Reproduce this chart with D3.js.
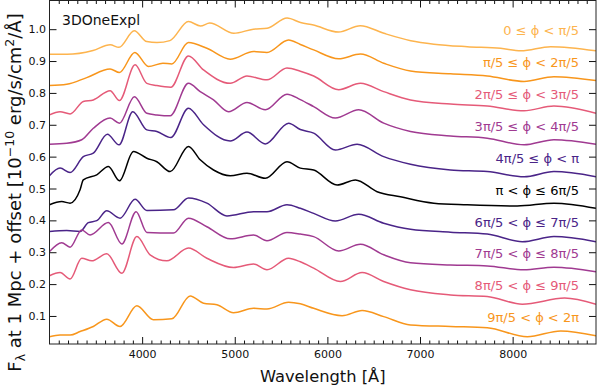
<!DOCTYPE html>
<html><head><meta charset="utf-8">
<script src="https://cdn.jsdelivr.net/npm/d3@7"></script>
<style>
body{margin:0;background:#fff}
svg{display:block}
text{font-family:"DejaVu Sans",Verdana,sans-serif}
</style>
</head><body>
<svg id="chart" width="598" height="388"></svg>
<script>
// ---------------- data (wavelength in Å, flux + offset) ----------------
const seriesLabels = ["0 ≤ ϕ < π/5","π/5 ≤ ϕ < 2π/5","2π/5 ≤ ϕ < 3π/5","3π/5 ≤ ϕ < 4π/5","4π/5 ≤ ϕ < π",
  "π < ϕ ≤ 6π/5","6π/5 < ϕ ≤ 7π/5","7π/5 < ϕ ≤ 8π/5","8π/5 < ϕ ≤ 9π/5","9π/5 < ϕ < 2π"];
const labelPos = [1.0,0.9,0.8,0.7,0.6,0.5,0.4,0.3,0.2,0.1];

const wl0 = [3000,3190,3470,3655,3750,3915,4050,4160,4300,4500,4630,4730,4990,5200,5350,5565,5710,5850,6120,6355,6610,6900,7150,7510,7870,8090,8410,8900];
const fx0 = [0.921,0.921,0.933,0.951,0.943,0.995,0.961,0.958,0.964,1.024,1.010,1.019,0.987,1.000,1.003,1.035,1.021,1.013,0.991,1.011,0.987,0.964,0.953,0.945,0.940,0.932,0.945,0.932];

const wl1 = [3000,3186,3402,3654,3755,3921,4068,4224,4321,4500,4699,4951,5203,5348,5581,5708,5852,6122,6357,6608,6897,7329,7726,8123,8446,8900];
const fx1 = [0.823,0.827,0.848,0.875,0.864,0.927,0.883,0.893,0.891,0.958,0.940,0.906,0.930,0.927,0.966,0.952,0.935,0.907,0.922,0.893,0.869,0.860,0.853,0.836,0.851,0.839];

const wl2 = [3000,3114,3222,3365,3473,3654,3755,3924,4051,4159,4310,4500,4663,4951,5132,5348,5564,5708,5852,6122,6357,6608,6897,7329,7726,8123,8446,8900];
const fx2 = [0.731,0.741,0.734,0.773,0.778,0.807,0.776,0.888,0.830,0.823,0.818,0.916,0.872,0.830,0.853,0.841,0.878,0.868,0.853,0.810,0.830,0.804,0.778,0.765,0.759,0.744,0.759,0.736];

const wl3 = [3000,3186,3348,3473,3654,3755,3917,4051,4159,4303,4500,4627,4771,4933,5132,5330,5564,5708,5852,6086,6338,6608,6897,7329,7726,8123,8446,8900];
const fx3 = [0.639,0.642,0.653,0.689,0.721,0.705,0.788,0.736,0.731,0.728,0.830,0.804,0.778,0.741,0.770,0.747,0.796,0.779,0.757,0.721,0.747,0.705,0.679,0.665,0.658,0.637,0.653,0.639];

const wl4 = [3000,3114,3222,3365,3473,3625,3751,3899,4051,4159,4310,4500,4663,4951,5132,5330,5581,5708,5852,6086,6321,6608,6897,7329,7726,8123,8446,8900];
const fx4 = [0.540,0.564,0.550,0.600,0.611,0.670,0.637,0.741,0.684,0.679,0.660,0.752,0.700,0.649,0.677,0.640,0.705,0.685,0.674,0.621,0.639,0.600,0.576,0.558,0.553,0.537,0.553,0.537];

const wl5 = [3000,3132,3222,3330,3365,3510,3636,3755,3906,4051,4159,4303,4500,4627,4771,4951,5132,5330,5564,5708,5852,6105,6303,6537,6789,7149,7510,8050,8446,8900];
const fx5 = [0.449,0.459,0.454,0.496,0.527,0.543,0.569,0.524,0.616,0.595,0.584,0.553,0.632,0.590,0.558,0.540,0.548,0.532,0.584,0.564,0.558,0.511,0.527,0.490,0.474,0.454,0.449,0.445,0.454,0.438];

const wl6 = [3000,3186,3330,3419,3510,3618,3762,3924,4051,4338,4500,4699,4916,5203,5348,5564,5708,5852,6086,6338,6608,6897,7329,7726,8104,8446,8900];
const fx6 = [0.365,0.368,0.365,0.393,0.399,0.430,0.407,0.466,0.431,0.433,0.470,0.454,0.414,0.427,0.427,0.449,0.438,0.422,0.398,0.419,0.391,0.372,0.363,0.357,0.333,0.349,0.333];

const wl7 = [3000,3132,3222,3348,3438,3636,3781,3935,4051,4338,4500,4699,4951,5203,5348,5564,5708,5852,6122,6357,6608,6897,7329,7726,8123,8446,8900];
const fx7 = [0.302,0.330,0.316,0.370,0.354,0.393,0.326,0.427,0.362,0.360,0.407,0.380,0.342,0.354,0.336,0.362,0.357,0.349,0.304,0.325,0.292,0.267,0.260,0.257,0.245,0.253,0.239];

const wl8 = [3000,3114,3222,3348,3456,3618,3781,3943,4086,4267,4500,4699,4987,5203,5348,5581,5708,5852,6140,6375,6608,6897,7329,7726,8104,8561,8900];
const fx8 = [0.226,0.236,0.216,0.281,0.273,0.295,0.234,0.349,0.292,0.273,0.313,0.281,0.252,0.263,0.245,0.281,0.270,0.250,0.208,0.236,0.208,0.182,0.166,0.161,0.137,0.156,0.137];

const wl9 = [3000,3114,3222,3330,3473,3618,3762,3943,4122,4321,4519,4663,4807,4987,5203,5348,5581,5708,5852,6159,6375,6608,6897,7329,7726,8159,8519,8900];
const fx9 = [0.035,0.040,0.040,0.051,0.067,0.090,0.067,0.132,0.088,0.091,0.163,0.140,0.135,0.110,0.124,0.122,0.143,0.138,0.124,0.101,0.117,0.098,0.072,0.067,0.063,0.035,0.053,0.038];

const xTicks = [4000,5000,6000,7000,8000];
const yTicks = [0.1,0.2,0.3,0.4,0.5,0.6,0.7,0.8,0.9,1.0];
const xDomain = [3000, 8900];
const yDomain = [0.012, 1.090];

// ---------------- styles ----------------
const palette = ["#fdb44e","#f8961c","#e55a78","#a03a91","#4a2488","#000000","#4a2488","#a03a91","#e55a78","#f8961c"];

const wls = [wl0,wl1,wl2,wl3,wl4,wl5,wl6,wl7,wl8,wl9];
const fxs = [fx0,fx1,fx2,fx3,fx4,fx5,fx6,fx7,fx8,fx9];
const series = wls.map((w,i)=>({label:seriesLabels[i], pos:labelPos[i], color:palette[i], pts:w.map((l,j)=>[l,fxs[i][j]])}));

const L = 49.5, R = 596, T = 0.5, B = 344;
const svg = d3.select("#chart");
const x = d3.scaleLinear().domain(xDomain).range([L, R]);
const y = d3.scaleLinear().domain(yDomain).range([B, T]);

svg.append("defs").append("clipPath").attr("id","clip")
  .append("rect").attr("x",L).attr("y",T).attr("width",R-L).attr("height",B-T);

const line = d3.line().x(d=>x(d[0])).y(d=>y(d[1])).curve(d3.curveMonotoneX);
const g = svg.append("g").attr("clip-path","url(#clip)");
series.forEach(s=>{
  g.append("path").attr("d",line(s.pts)).attr("fill","none")
    .attr("stroke",s.color).attr("stroke-width",1.5).attr("stroke-linejoin","round");
});

// labels
series.forEach(s=>{
  svg.append("text").attr("x",579).attr("y",y(s.pos)+1.5).attr("dy","0.36em")
    .attr("text-anchor","end").attr("font-size",13).attr("fill",s.color).text(s.label);
});

svg.append("text").attr("x",62).attr("y",24.5).attr("font-size",14).attr("fill","#111").text("3DOneExpl");

// axes
const axB = d3.axisBottom(x).tickValues(xTicks).tickSize(-7).tickPadding(6).tickFormat(d3.format("d"));
const axT = d3.axisTop(x).tickValues(xTicks).tickSize(-7).tickFormat("");
const axL = d3.axisLeft(y).tickValues(yTicks).tickSize(-7).tickPadding(3.5).tickFormat(d3.format(".1f"));
const axR = d3.axisRight(y).tickValues(yTicks).tickSize(-7).tickFormat("");
const minor = d3.range(3100, 8900, 100).filter(v=>v%1000!==0);
const axBm = d3.axisBottom(x).tickValues(minor).tickSize(-3.5).tickFormat("");
const axTm = d3.axisTop(x).tickValues(minor).tickSize(-3.5).tickFormat("");

function put(ax, tr){
  const a = svg.append("g").attr("transform",tr).call(ax);
  a.select(".domain").remove();
  a.selectAll("line").attr("stroke","#111").attr("stroke-width",1);
  a.selectAll("text").attr("font-size",11).attr("fill","#111").attr("font-family","DejaVu Sans");
  return a;
}
put(axB, `translate(0,${B})`);
put(axBm, `translate(0,${B})`);
put(axT, `translate(0,${T})`);
put(axTm, `translate(0,${T})`);
put(axL, `translate(${L},0)`);
put(axR, `translate(${R},0)`);

svg.append("rect").attr("x",L).attr("y",T).attr("width",R-L).attr("height",B-T)
  .attr("fill","none").attr("stroke","#222").attr("stroke-width",1);

// axis titles
svg.append("text").attr("x",(L+R)/2).attr("y",382).attr("text-anchor","middle")
  .attr("font-size",16.3).attr("fill","#111").text("Wavelength [Å]");

const yl = svg.append("text").attr("transform","translate(21,192.5) rotate(-90)")
  .attr("text-anchor","middle").attr("font-size",18).attr("fill","#111");
yl.append("tspan").text("F");
yl.append("tspan").attr("font-size",12.5).attr("dy",4).text("λ");
yl.append("tspan").attr("dy",-4).text(" at 1 Mpc + offset [10");
yl.append("tspan").attr("font-size",12.5).attr("dy",-7).text("−10");
yl.append("tspan").attr("dy",7).text(" erg/s/cm");
yl.append("tspan").attr("font-size",12.5).attr("dy",-7).text("2");
yl.append("tspan").attr("dy",7).text("/Å]");
</script>
</body></html>
